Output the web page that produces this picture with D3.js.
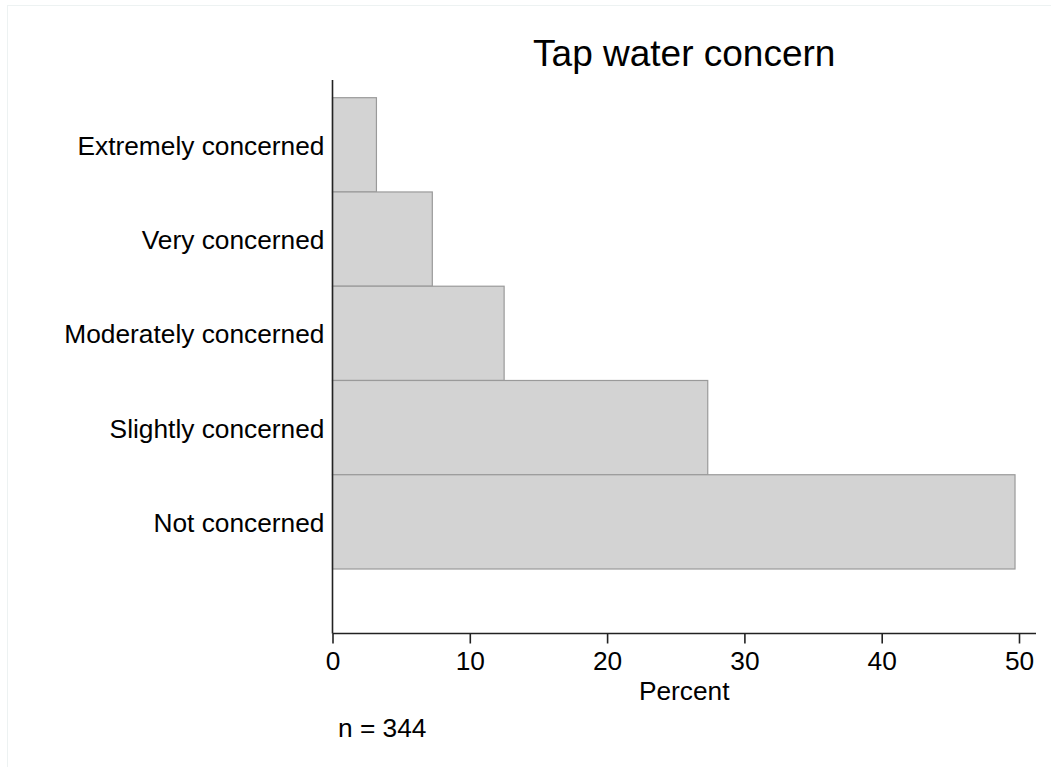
<!DOCTYPE html>
<html>
<head>
<meta charset="utf-8">
<script src="https://cdn.jsdelivr.net/npm/d3@7"></script>
<style>
  html, body { margin: 0; padding: 0; background: #fff; }
  svg { display: block; }
  text { font-family: "Liberation Sans", Arial, Helvetica, sans-serif; fill: #000; }
</style>
</head>
<body>
<svg id="chart" width="1051" height="767"></svg>
<script>
const categories = ["Extremely concerned", "Very concerned", "Moderately concerned", "Slightly concerned", "Not concerned"];
const percents = [3.2, 7.27, 12.5, 27.33, 49.71];
const xTicks = [0, 10, 20, 30, 40, 50];
const title = "Tap water concern";
const xLabel = "Percent";
const note = "n = 344";

const svg = d3.select("#chart");

// faint outer frame
svg.append("rect").attr("x", 7.5).attr("y", 5.5).attr("width", 1100).attr("height", 1000)
  .attr("fill", "none").attr("stroke", "#edf2f2").attr("stroke-width", 1);

const x = d3.scaleLinear().domain([0, 50]).range([332.5, 1019]);
const y = d3.scaleBand().domain(categories).range([97.7, 569]).padding(0);

const axisLeftX = 332.5, axisBottomY = 633.5, axisTopY = 80, axisRightX = 1036;
const fontSmall = 26.3;

// bars
svg.append("g").selectAll("rect").data(categories).join("rect")
  .attr("x", x(0))
  .attr("y", d => y(d))
  .attr("width", (d, i) => x(percents[i]) - x(0))
  .attr("height", y.bandwidth())
  .attr("fill", "#d3d3d3")
  .attr("stroke", "#9a9a9a")
  .attr("stroke-width", 1.2);

// x axis
const xAxis = d3.axisBottom(x).tickValues(xTicks).tickSize(10).tickPadding(8).tickFormat(d3.format("d"));
const gx = svg.append("g").attr("transform", `translate(0,${axisBottomY})`).call(xAxis);
gx.select(".domain").remove();
gx.append("line").attr("x1", axisLeftX).attr("x2", axisRightX).attr("y1", 0).attr("y2", 0)
  .attr("stroke", "#222").attr("stroke-width", 1.6);
gx.selectAll(".tick line").attr("stroke", "#222").attr("stroke-width", 1.6);
gx.selectAll(".tick text").attr("font-size", fontSmall).attr("fill", "#000")
  .style("font-family", '"Liberation Sans", Arial, sans-serif');

// y axis
const yAxis = d3.axisLeft(y).tickSize(0).tickPadding(8);
const gy = svg.append("g").attr("transform", `translate(${axisLeftX},0)`).call(yAxis);
gy.select(".domain").remove();
gy.append("line").attr("x1", 0).attr("x2", 0).attr("y1", axisTopY).attr("y2", axisBottomY)
  .attr("stroke", "#222").attr("stroke-width", 1.6);
gy.selectAll(".tick text").attr("font-size", fontSmall).attr("fill", "#000")
  .attr("dy", "0.38em")
  .style("font-family", '"Liberation Sans", Arial, sans-serif');

// title
svg.append("text").attr("x", (axisLeftX + axisRightX) / 2).attr("y", 66)
  .attr("text-anchor", "middle").attr("font-size", 37).text(title);

// x label
svg.append("text").attr("x", (axisLeftX + axisRightX) / 2).attr("y", 700)
  .attr("text-anchor", "middle").attr("font-size", fontSmall).text(xLabel);

// note
svg.append("text").attr("x", 338).attr("y", 737).attr("font-size", fontSmall).text(note);
</script>
</body>
</html>
